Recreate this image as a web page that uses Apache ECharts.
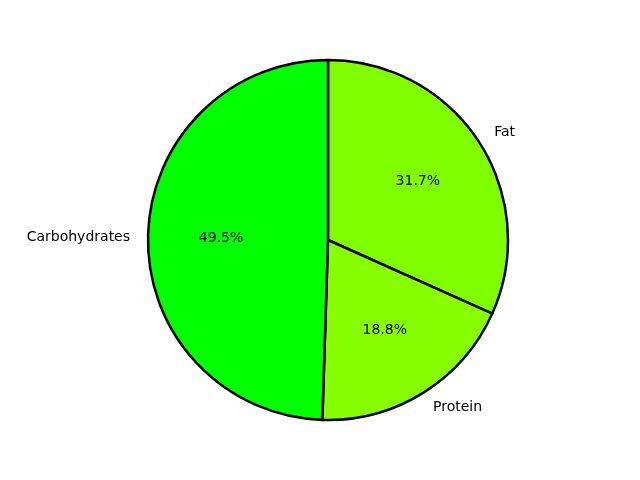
<!DOCTYPE html>
<html>
<head>
<meta charset="utf-8">
<script src="https://cdn.jsdelivr.net/npm/echarts@6/dist/echarts.min.js"></script>
<style>
  html, body { margin: 0; padding: 0; background: #ffffff; }
  #chart { width: 640px; height: 480px; }
</style>
</head>
<body>
<div id="chart"></div>
<script>
// 饼图数据
var categories = ["Fat", "Protein", "Carbohydrates"];
var shares = [31.7, 18.8, 49.5];
var sliceColors = ["#80ff00", "#88ff00", "#00ff00"];

var chart = echarts.init(document.getElementById("chart"));

var mainData = categories.map(function (name, i) {
  return { name: name, value: shares[i], itemStyle: { color: sliceColors[i] } };
});

var option = {
  backgroundColor: "#ffffff",
  animation: false,
  series: [
    {
      // 扇区 + 外侧标签
      type: "pie",
      center: [328, 240],
      radius: [0, 180],
      startAngle: 90,
      clockwise: true,
      avoidLabelOverlap: false,
      itemStyle: { borderColor: "#000000", borderWidth: 2.5 },
      label: {
        show: true,
        position: "outside",
        distanceToLabelLine: 0,
        fontFamily: "DejaVu Sans",
        fontSize: 14,
        color: "#000000",
        formatter: "{b}"
      },
      labelLine: { show: false, length: 18, length2: 0 },
      emphasis: { disabled: true },
      data: mainData
    },
    {
      // 透明的辅助饼，只用来放百分比
      type: "pie",
      center: [328, 240],
      radius: [0, 208],
      startAngle: 90,
      clockwise: true,
      silent: true,
      z: 3,
      itemStyle: { color: "rgba(0,0,0,0)", borderWidth: 0 },
      label: {
        show: true,
        position: "inside",
        fontFamily: "DejaVu Sans",
        fontSize: 14,
        color: "#000000",
        formatter: function (p) { return p.value.toFixed(1) + "%"; }
      },
      labelLine: { show: false },
      emphasis: { disabled: true },
      data: categories.map(function (name, i) {
        return { name: name, value: shares[i] };
      })
    }
  ]
};

chart.setOption(option);
</script>
</body>
</html>
